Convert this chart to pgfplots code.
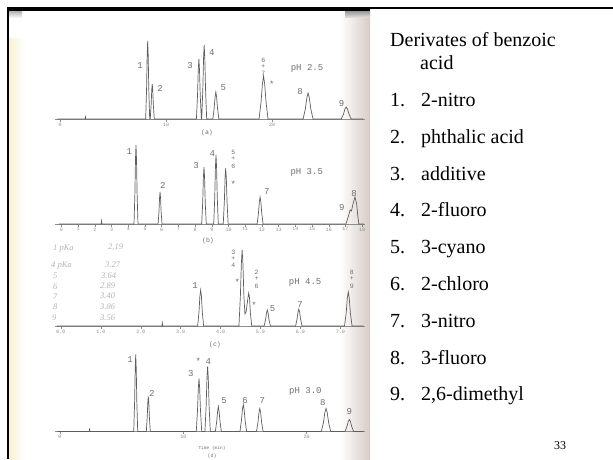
\documentclass[border=0pt]{standalone}
\usepackage{fontspec}
\setmainfont{Liberation Serif}
\setmonofont{Liberation Mono}
\usepackage{pgfplots}
\pgfplotsset{compat=1.18}
\definecolor{trace}{HTML}{5E5E5E}
\definecolor{lbl}{HTML}{707070}
\definecolor{tk}{HTML}{8C8C8C}
\definecolor{hand}{HTML}{B4B4B4}
\definecolor{cream}{HTML}{FAF1D2}
\definecolor{edge}{HTML}{D6CBC6}
\pgfplotsset{
  chrom/.style={scale only axis, width=310pt, height=90pt, ymin=0, ymax=90, clip=false,
    axis x line*=bottom, axis y line=none,
    x axis line style={draw=tk, line width=0.7pt},
    xtick style={draw=tk, line width=0.5pt},
    major tick length=2.5pt, tick align=outside,
    xticklabel style={font=\ttfamily\fontsize{5}{5}\selectfont, text=tk, inner sep=1pt}},
  trace line/.style={color=trace, line width=0.7pt, mark=none},
}
\tikzset{pk/.style={font=\ttfamily\fontsize{9}{9}\selectfont, text=lbl, inner sep=0pt},
  pks/.style={font=\ttfamily\fontsize{6.5}{6.5}\selectfont, text=lbl, inner sep=0pt},
  hw/.style={font=\itshape\fontsize{8.5}{8.5}\selectfont, text=hand, inner sep=0pt, anchor=base west},
  rt/.style={font=\fontsize{20}{24}\selectfont, anchor=base west, inner sep=0pt}}
\begin{document}
\begin{tikzpicture}
\path[use as bounding box] (0pt,0pt) rectangle (613pt,459pt);
\fill[white] (0pt,0pt) rectangle (613pt,459pt);
% scan decorations
\shade[left color=cream, right color=white] (9pt,0pt) rectangle (24pt,420pt);
\shade[left color=white, right color=edge] (340pt,0pt) rectangle (370pt,449pt);
\shade[top color=black!35, bottom color=white] (9pt,441pt) rectangle (22pt,449pt);
\shade[top color=black!45, bottom color=edge!50] (345pt,441pt) rectangle (370pt,449pt);
\fill[black] (7pt,448.3pt) rectangle (370pt,452.3pt);
\fill[black] (370pt,450.3pt) rectangle (613pt,452.3pt);
\fill[black] (6.5pt,0pt) rectangle (9pt,452pt);

% ---------- (a) pH 2.5
\begin{axis}[chrom, at={(55pt,340pt)}, anchor=south west, xmin=-0.472, xmax=28.77,
  xtick={0,10,20}, xticklabels={0,10,20}]
\addplot[trace line] coordinates {(-0.25,0) (2.38,0) (2.40,3) (2.42,0) (8.08,0) (8.166,30) (8.223,64) (8.27,78) (8.318,64) (8.375,30) (8.46,0) (8.51,0) (8.596,14) (8.653,29) (8.70,35) (8.748,29) (8.805,14) (8.89,0) (12.864,0) (12.97,23) (13.041,49) (13.10,60) (13.159,49) (13.23,23) (13.336,0) (13.364,0) (13.47,29) (13.541,61) (13.60,74) (13.659,61) (13.73,29) (13.836,0) (14.417,0) (14.544,11) (14.629,22) (14.70,27) (14.771,22) (14.856,11) (14.983,0) (18.775,0) (18.966,17) (19.094,35) (19.20,43) (19.306,35) (19.434,17) (19.625,0) (22.93,0) (23.141,10) (23.282,21) (23.40,26) (23.518,21) (23.659,10) (23.87,0) (26.53,0) (26.741,5) (26.882,10) (27.00,12) (27.118,10) (27.259,5) (27.47,0) (28.6,0)};
\node[pk] at (axis cs:7.55,53) {1};
\node[pk] at (axis cs:9.43,31) {2};
\node[pk] at (axis cs:12.26,53) {3};
\node[pk] at (axis cs:14.31,66) {4};
\node[pk] at (axis cs:15.41,31) {5};
\node[pks] at (axis cs:19.18,59) {6};
\node[pks] at (axis cs:19.18,52.5) {+};
\node[pks] at (axis cs:19.18,46) {7};
\node[pk] at (axis cs:19.97,35) {*};
\node[pk] at (axis cs:22.64,27) {8};
\node[pk] at (axis cs:26.57,15) {9};
\node[pk] at (axis cs:23.3,51) {pH 2.5};
\end{axis}
\node[pk, font=\ttfamily\fontsize{6.5}{6.5}\selectfont] at (207pt,326pt) {(a)};

% ---------- (b) pH 3.5
\begin{axis}[chrom, at={(55pt,235pt)}, anchor=south west, xmin=-0.389, xmax=18.17,
  xtick={0,1,2,3,4,5,6,7,8,9,10,11,12,13,14,15,16,17,18},
  xticklabels={0,1,2,3,4,5,6,7,8,9,10,11,12,13,14,15,16,17,18}]
\addplot[trace line] coordinates {(-0.15,0) (2.38,0) (2.40,3) (2.42,0) (4.341,0) (4.395,31) (4.43,65) (4.46,79) (4.49,65) (4.525,31) (4.579,0) (5.781,0) (5.835,12) (5.87,26) (5.90,32) (5.93,26) (5.965,12) (6.019,0) (8.394,0) (8.455,22) (8.496,47) (8.53,57) (8.564,47) (8.605,22) (8.666,0) (9.114,0) (9.175,27) (9.216,57) (9.25,69) (9.284,57) (9.325,27) (9.386,0) (9.682,0) (9.749,22) (9.793,46) (9.83,56) (9.867,46) (9.911,22) (9.978,0) (11.712,0) (11.792,11) (11.845,22) (11.89,27) (11.935,22) (11.988,11) (12.068,0) (17.03,0) (17.18,8) (17.28,14) (17.36,13) (17.45,20) (17.57,27) (17.67,20) (17.74,8) (17.80,0) (18.1,0)};
\node[pk] at (axis cs:4.06,72) {1};
\node[pk] at (axis cs:6.06,39) {2};
\node[pk] at (axis cs:8.05,58) {3};
\node[pk] at (axis cs:9.03,70) {4};
\node[pks] at (axis cs:10.29,72) {5};
\node[pks] at (axis cs:10.29,65) {+};
\node[pks] at (axis cs:10.29,58) {6};
\node[pk] at (axis cs:10.29,40) {*};
\node[pk] at (axis cs:12.29,32) {7};
\node[pk] at (axis cs:16.78,16) {9};
\node[pk] at (axis cs:17.51,30) {8};
\node[pk] at (axis cs:14.68,52) {pH 3.5};
\end{axis}
\node[pk, font=\ttfamily\fontsize{6.5}{6.5}\selectfont] at (208pt,218pt) {(b)};

% ---------- (c) pH 4.5
\begin{axis}[chrom, at={(55pt,133pt)}, anchor=south west, xmin=-0.150, xmax=7.619,
  xtick={0,1,2,3,4,5,6,7}, xticklabels={0.0,1.0,2.0,3.0,4.0,5.0,6.0,7.0}]
\addplot[trace line] coordinates {(-0.1,0) (2.53,0) (2.54,3) (2.55,0) (3.425,0) (3.459,14) (3.481,30) (3.50,36) (3.519,30) (3.541,14) (3.575,0) (4.46,0) (4.496,30) (4.52,62) (4.54,76) (4.56,62) (4.584,30) (4.61,12) (4.64,14) (4.665,22) (4.685,28) (4.705,33) (4.725,28) (4.745,14) (4.78,0) (5.09,0) (5.126,6) (5.15,13) (5.17,16) (5.19,13) (5.214,6) (5.25,0) (5.88,0) (5.916,7) (5.94,14) (5.96,17) (5.98,14) (6.004,7) (6.04,0) (7.105,0) (7.148,13) (7.176,28) (7.20,34) (7.224,28) (7.252,13) (7.295,0) (7.58,0)};
\node[pk] at (axis cs:3.36,40) {1};
\node[pks] at (axis cs:4.32,74) {3};
\node[pks] at (axis cs:4.32,67.5) {+};
\node[pks] at (axis cs:4.32,61) {4};
\node[pk] at (axis cs:4.42,44) {*};
\node[pks] at (axis cs:4.90,54) {2};
\node[pks] at (axis cs:4.90,47) {+};
\node[pks] at (axis cs:4.90,40) {6};
\node[pk] at (axis cs:4.84,21) {*};
\node[pk] at (axis cs:5.30,17) {5};
\node[pk] at (axis cs:5.99,21) {7};
\node[pks] at (axis cs:7.29,54) {8};
\node[pks] at (axis cs:7.29,47) {+};
\node[pks] at (axis cs:7.29,40) {9};
\node[pk] at (axis cs:6.12,44) {pH 4.5};
\end{axis}
\node[pk, font=\ttfamily\fontsize{6.5}{6.5}\selectfont] at (215pt,114pt) {(c)};
% handwritten pKa notes
\node[hw] at (53pt,209pt) {1 pKa};
\node[hw] at (108pt,210pt) {2,19};
\node[hw] at (51pt,192pt) {4 pKa};
\node[hw] at (105pt,192pt) {3.27};
\node[hw] at (53pt,181pt) {5};
\node[hw] at (101pt,181pt) {3.64};
\node[hw] at (53pt,170pt) {6};
\node[hw] at (100pt,171pt) {2.89};
\node[hw] at (53pt,160pt) {7};
\node[hw] at (100pt,161pt) {3.40};
\node[hw] at (53pt,150pt) {8};
\node[hw] at (100pt,150pt) {3.86};
\node[hw] at (52pt,139pt) {9};
\node[hw] at (100pt,139pt) {3.56};

% ---------- (d) pH 3.0
\begin{axis}[chrom, at={(55pt,27.5pt)}, anchor=south west, xmin=-0.405, xmax=24.73,
  xtick={0,10,20}, xticklabels={0,10,20}]
\addplot[trace line] coordinates {(-0.2,0) (2.38,0) (2.40,3) (2.42,0) (5.978,0) (6.051,30) (6.099,63) (6.14,77) (6.181,63) (6.229,30) (6.302,0) (6.998,0) (7.071,14) (7.119,29) (7.16,35) (7.201,29) (7.249,14) (7.322,0) (11.05,0) (11.149,21) (11.215,43) (11.27,53) (11.325,43) (11.391,21) (11.49,0) (11.75,0) (11.849,25) (11.915,53) (11.97,65) (12.025,53) (12.091,25) (12.19,0) (12.597,0) (12.706,10) (12.779,20) (12.84,25) (12.901,20) (12.974,10) (13.083,0) (14.59,0) (14.711,11) (14.792,22) (14.86,27) (14.928,22) (15.009,11) (15.13,0) (15.93,0) (16.051,9) (16.132,19) (16.20,23) (16.268,19) (16.349,9) (16.47,0) (21.19,0) (21.361,9) (21.475,19) (21.57,23) (21.665,19) (21.779,9) (21.95,0) (23.11,0) (23.267,5) (23.372,10) (23.46,12) (23.548,10) (23.653,5) (23.81,0) (24.6,0)};
\node[pk] at (axis cs:5.68,72) {1};
\node[pk] at (axis cs:7.44,38) {2};
\node[pk] at (axis cs:10.6,58) {3};
\node[pk] at (axis cs:11.22,70) {*};
\node[pk] at (axis cs:12.02,70) {4};
\node[pk] at (axis cs:13.3,31) {5};
\node[pk] at (axis cs:15.0,31) {6};
\node[pk] at (axis cs:16.41,31) {7};
\node[pk] at (axis cs:21.3,29) {8};
\node[pk] at (axis cs:23.46,20) {9};
\node[pk] at (axis cs:19.9,40) {pH 3.0};
\end{axis}
\node[pk, font=\ttfamily\fontsize{4.5}{4.5}\selectfont] at (212pt,11pt) {Time (min)};
\node[pk, font=\ttfamily\fontsize{5}{5}\selectfont] at (212pt,3pt) {(d)};

% ---------- right-hand list
\node[rt] at (390pt,412.5pt) {Derivates of benzoic};
\node[rt] at (420pt,389.5pt) {acid};
\node[rt] at (390pt,352.5pt) {1.}; \node[rt] at (421pt,352.5pt) {2-nitro};
\node[rt] at (390pt,315.7pt) {2.}; \node[rt] at (421pt,315.7pt) {phthalic acid};
\node[rt] at (390pt,278.9pt) {3.}; \node[rt] at (421pt,278.9pt) {additive};
\node[rt] at (390pt,242.1pt) {4.}; \node[rt] at (421pt,242.1pt) {2-fluoro};
\node[rt] at (390pt,205.3pt) {5.}; \node[rt] at (421pt,205.3pt) {3-cyano};
\node[rt] at (390pt,168.5pt) {6.}; \node[rt] at (421pt,168.5pt) {2-chloro};
\node[rt] at (390pt,131.7pt) {7.}; \node[rt] at (421pt,131.7pt) {3-nitro};
\node[rt] at (390pt,94.9pt) {8.}; \node[rt] at (421pt,94.9pt) {3-fluoro};
\node[rt] at (390pt,58.1pt) {9.}; \node[rt] at (421pt,58.1pt) {2,6-dimethyl};
\node[font=\fontsize{12}{12}\selectfont, anchor=base, inner sep=0pt] at (560pt,10pt) {33};
\end{tikzpicture}
\end{document}
